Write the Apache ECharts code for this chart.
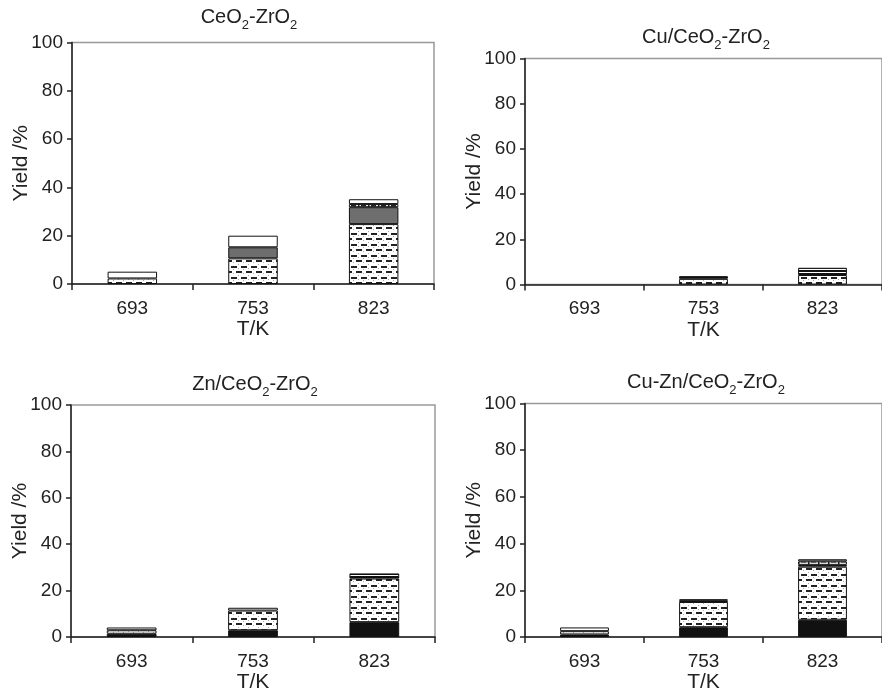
<!DOCTYPE html>
<html>
<head>
<meta charset="utf-8">
<script src="https://cdn.jsdelivr.net/npm/echarts@6/dist/echarts.min.js"></script>
<style>
  html, body { margin: 0; padding: 0; background: #fff; }
  #chart { width: 882px; height: 694px; }
</style>
</head>
<body>
<div id="chart"></div>
<script>
// temperatures (x categories)
const categories = ['693', '753', '823'];
// panel titles, rich text for the subscripts
const panelTitles = [
  'CeO{s|2}-ZrO{s|2}',
  'Cu/CeO{s|2}-ZrO{s|2}',
  'Zn/CeO{s|2}-ZrO{s|2}',
  'Cu-Zn/CeO{s|2}-ZrO{s|2}'
];
const yTicks = [0, 20, 40, 60, 80, 100];

// yields per panel (stacked from bottom to top), one row per panel
const blackYield   = [[0, 0, 0],       [0, 0, 0],     [1.4, 2.9, 6.4], [1.1, 4.2, 7.4]];
const dashedYield  = [[2.3, 10.6, 24.8], [0, 2.5, 4.2], [1.5, 8.5, 18.8], [1.4, 10.8, 22.7]];
const greyYield    = [[0, 4.6, 7.0],   [0, 0, 0],     [0, 0, 0],       [0, 0, 0]];
const stripedYield = [[0, 0, 0],       [0, 1.2, 3.2], [0, 0, 2.2],     [0, 0.7, 0.8]];
const tickedYield  = [[0, 0, 1.3],     [0, 0, 0],     [0, 0, 0],       [0, 0, 1.5]];
const whiteYield   = [[2.8, 4.8, 2.0], [0, 0, 0],     [1.2, 1.2, 0],   [1.6, 0.4, 0.9]];

// --- fill patterns ---
function makeCanvas(w, h) {
  let c = document.createElement('canvas');
  c.width = w; c.height = h;
  let ctx = c.getContext('2d');
  ctx.fillStyle = '#fff';
  ctx.fillRect(0, 0, w, h);
  return [c, ctx];
}
function dashPattern() {
  let [c, ctx] = makeCanvas(10, 11);
  ctx.fillStyle = '#222';
  ctx.fillRect(1, 2, 6, 2);
  ctx.fillRect(6, 7, 4, 2);
  ctx.fillRect(0, 7, 2, 2);
  ctx.fillStyle = '#aaa'; // stipple
  ctx.fillRect(8, 0, 1, 1);
  ctx.fillRect(3, 5, 1, 1);
  ctx.fillRect(8, 4, 1, 1);
  ctx.fillRect(3, 9, 1, 1);
  return c;
}
function stripePattern() {
  let [c, ctx] = makeCanvas(4, 3);
  ctx.fillStyle = '#111';
  ctx.fillRect(0, 0, 4, 2);
  return c;
}
function tickPattern() {
  let [c, ctx] = makeCanvas(10, 4);
  ctx.fillStyle = '#222';
  ctx.fillRect(1, 1, 5, 1.5);
  ctx.fillRect(8, 0, 1.5, 4);
  return c;
}

const layers = [
  {name: 'black', data: blackYield, color: '#111'},
  {name: 'dashed', data: dashedYield, color: {image: dashPattern(), repeat: 'repeat'}},
  {name: 'grey', data: greyYield, color: '#6e6e6e'},
  {name: 'striped', data: stripedYield, color: {image: stripePattern(), repeat: 'repeat'}},
  {name: 'ticked', data: tickedYield, color: {image: tickPattern(), repeat: 'repeat'}},
  {name: 'white', data: whiteYield, color: '#fff'}
];

const grids = [
  {left: 72, top: 42.5, width: 362, height: 241.5},
  {left: 525, top: 58.5, width: 360, height: 226},
  {left: 71, top: 405, width: 364, height: 235},
  {left: 525, top: 403.5, width: 360, height: 236.5}
];
const titlePos = [[249, 2], [706, 22], [255, 369], [706, 367]];

const txt = '#222';
const font = 'Liberation Sans, Arial, sans-serif';

let chart = echarts.init(document.getElementById('chart'));
let option = {
  backgroundColor: '#fff',
  textStyle: {fontFamily: font},
  title: panelTitles.map((t, i) => ({
    text: t,
    left: titlePos[i][0],
    top: titlePos[i][1],
    textAlign: 'center',
    padding: 0,
    textStyle: {
      fontSize: 20, fontWeight: 'normal', color: txt, fontFamily: font, lineHeight: 24,
      rich: {s: {fontSize: 13, verticalAlign: 'bottom', lineHeight: 30, fontFamily: font, color: txt}}
    }
  })),
  grid: grids.map(g => Object.assign({show: true, borderColor: '#999', borderWidth: 1.5, backgroundColor: 'transparent'}, g)),
  xAxis: grids.map((g, i) => ({
    type: 'category',
    gridIndex: i,
    data: categories,
    name: 'T/K',
    nameLocation: 'middle',
    nameGap: 35,
    nameMoveOverlap: false,
    nameTextStyle: {fontSize: 21, color: txt},
    axisLine: {lineStyle: {color: '#222', width: 1.5}},
    axisTick: {show: true, length: 6, lineStyle: {color: '#222', width: 1.5}},
    axisLabel: {fontSize: 19, color: txt, margin: 15}
  })),
  yAxis: grids.map((g, i) => ({
    type: 'value',
    gridIndex: i,
    min: yTicks[0],
    max: yTicks[yTicks.length - 1],
    interval: 20,
    name: 'Yield /%',
    nameLocation: 'middle',
    nameGap: 40,
    nameMoveOverlap: false,
    nameTextStyle: {fontSize: 21, color: txt},
    axisLine: {show: true, lineStyle: {color: '#222', width: 1.5}},
    axisTick: {show: true, length: 5, lineStyle: {color: '#222', width: 1.5}},
    splitLine: {show: false},
    axisLabel: {fontSize: 19, color: txt, margin: 9}
  })),
  series: []
};

grids.forEach((g, i) => {
  layers.forEach(layer => {
    option.series.push({
      type: 'bar',
      name: layer.name,
      xAxisIndex: i,
      yAxisIndex: i,
      stack: 'panel' + i,
      barWidth: '41%',
      silent: true,
      animation: false,
      itemStyle: {color: layer.color, borderColor: '#111', borderWidth: 1},
      data: layer.data[i].map(v => v > 0 ? v : null)
    });
  });
});

chart.setOption(option);
</script>
</body>
</html>
